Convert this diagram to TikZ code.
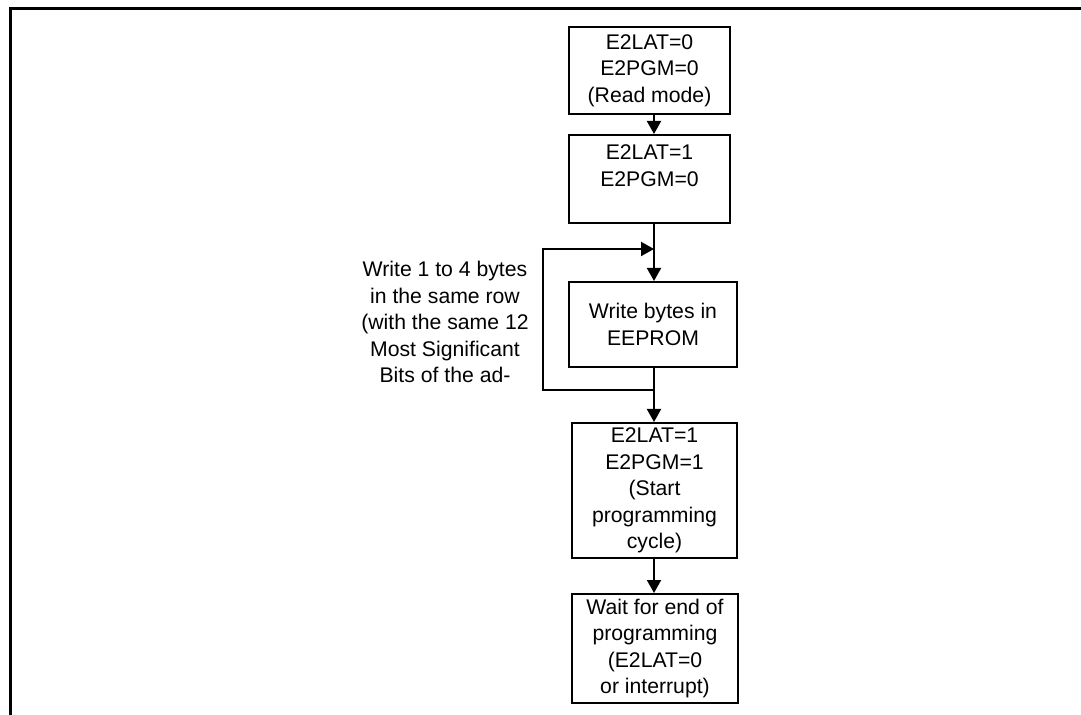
\documentclass[tikz,border=0pt]{standalone}
\usepackage{fontspec}
\setmainfont{Liberation Sans}
\usetikzlibrary{arrows.meta,calc}

\begin{document}
\begin{tikzpicture}[
  x=0.5pt, y=-0.5pt,
  >={Triangle[length=6.5pt,width=7pt]},
  font=\fontsize{10.6}{13.25}\selectfont,
  box/.style={draw, line width=1pt, inner sep=0pt, align=center},
  flow/.style={line width=1pt},
  note/.style={align=center}
]
\useasboundingbox (0,0) rectangle (1081,715);

% frame
\draw[line width=1.5pt] (10,715) -- (10,9) -- (1081,9);

\node[box, minimum width=80.5pt, minimum height=43.5pt] (read) at (649.5,70.5) {E2LAT=0\\E2PGM=0\\(Read mode)};
\node[box, minimum width=80.5pt, minimum height=44pt] (latch) at (649.5,179) {E2LAT=1\\E2PGM=0\\\mbox{}};
\node[box, minimum width=84pt, minimum height=42.5pt] (write) at (653,324.5) {Write bytes in\\EEPROM};
\node[box, minimum width=82.5pt, minimum height=67.5pt] (start) at (654.5,490.5) {E2LAT=1\\E2PGM=1\\(Start\\programming\\cycle)};
\node[box, minimum width=83pt, minimum height=54.5pt] (wait) at (655,648.5) {Wait for end of\\programming\\(E2LAT=0\\or interrupt)};

\node[note] (rule) at (445,322) {Write 1 to 4 bytes\\in the same row\\(with the same 12\\Most Significant\\Bits of the ad-};

\coordinate (spine) at (654,0);
\coordinate (join) at (654,249);
\coordinate (split) at (654,390);

\draw[flow,->] (read.south -| spine) -- (latch.north -| spine);
\draw[flow,->] (latch.south -| spine) -- (write.north -| spine);
\draw[flow,->] (split) -- ++(-111,0) |- (join);
\draw[flow,->] (write.south -| spine) -- (start.north -| spine);
\draw[flow,->] (start.south -| spine) -- (wait.north -| spine);

\end{tikzpicture}
\end{document}
